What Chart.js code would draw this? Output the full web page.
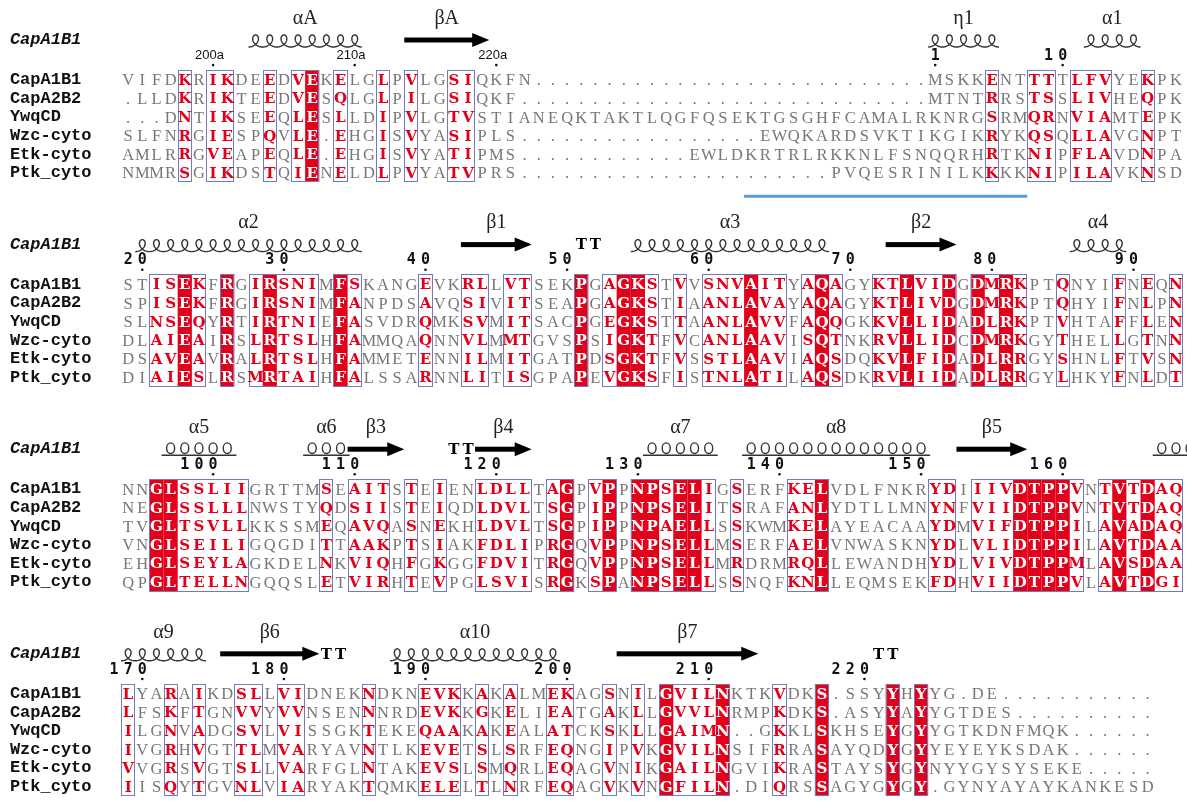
<!DOCTYPE html>
<html>
<head>
<meta charset="utf-8">
<title>CapA1B1 alignment</title>
<script src="https://cdn.jsdelivr.net/npm/chart.js@4/dist/chart.umd.min.js"></script>
<style>
  html, body { margin: 0; padding: 0; background: #fff; }
  #wrap { width: 1187px; height: 803px; }
</style>
</head>
<body>
<div id="wrap"><canvas id="aln" width="1187" height="803"></canvas></div>
<script>
// ==================== DATA ====================
const seqNames = ['CapA1B1', 'CapA2B2', 'YwqCD', 'Wzc-cyto', 'Etk-cyto', 'Ptk_cyto'];
const refName = 'CapA1B1';

// ---- block 1 (75 columns) ----
const block1Seqs = [
    'VIFDKRIKDEEDVEKELGLPVLGSIQKFN' + '..........' + '..........' + '........' + 'MSKKENTTTTLFVYEKPK',
    '.LLDKRIKTEEDVESQLGLPILGSIQKF' + '..........' + '..........' + '.........' + 'MTNTRRSTSSLIVHEQPK',
    '...DNTIKSEEQLESLLDIPVLGTVSTIANEQK' + 'TAKTLQGFQSEKTGSGHFCAMALRKNRG' + 'SRMQRNVIAMTEPK',
    'SLFNRGIESPQVLE.EHGISVYASIPLS' + '..........' + '.......' + 'EWQKARDSVKTIKGIK' + 'RYKQSQLLAVGNPT',
    'AMLRRGVEAPEQLE.EHGISVYATIPMS' + '..........' + '..' + 'EWLDKRTRLRKKNLFSNQQRH' + 'RTKNIPFLAVDNPA',
    'NMMRSGIKDSTQIENELDLPVYATVPRS' + '..........' + '..........' + '..' + 'PVQESRINILK' + 'KKKNIPILAVKNSD'
];
const block1Boxes = [[5, 5], [7, 8], [11, 11], [13, 14], [16, 16], [19, 19], [21, 21], [24, 25],
                     [62, 62], [65, 66], [68, 70], [73, 73]];
const block1Strict = [14];
const block1Ruler = [[7, '200a'], [17, '210a'], [27, '220a'], [58, '1'], [67, '10']];
const block1Helices = [[10, 17, 'αA'], [58, 62, 'η1'], [69, 72, 'α1']];
const block1Strands = [[21, 26, 'βA']];
const block1Turns = [];
const block1Underline = [45, 64];

// ---- block 2 (75 columns) ----
const block2Seqs = [
    'STISEKFRGIRSNIMFSKANGEVKRLLVTSEKP' + 'GAGKSTVVSNVAITYAQAGYKTLVIDGDMRKPTQNYIFNEQN',
    'SPISEKFRGIRSNIMFANPDSAVQSIVITSEAP' + 'GAGKSTIAANLAVAYAQAGYKTLIVDGDMRKPTQHYIFNLPN',
    'SLNSEQYRTIRTNIEFASVDRQMKSVMITSACP' + 'GEGKSTTAANLAVVFAQQGKKVLLIDADLRKPTVHTAFFLEN',
    'DLAIEAIRSLRTSLHFAMMQAQNNVLMMTGVSP' + 'SIGKTFVCANLAAVISQTNKRVLLIDCDMRKGYTHELLGTNN',
    'DSAVEAVRALRTSLHFAMMETENNILMITGATP' + 'DSGKTFVSSTLAAVIAQSDQKVLFIDADLRRGYSHNLFTVSN',
    'DIAIESLRSMRTAIHFALSSARNNLITISGPAP' + 'EVGKSFISTNLATILAQSDKRVLIIDADLRRGYLHKYFNLDT'
];
const block2Boxes = [[3, 6], [8, 8], [10, 14], [16, 17], [22, 22], [25, 26], [28, 29], [33, 33],
                     [35, 38], [40, 40], [42, 47], [49, 51], [54, 59], [61, 64], [67, 67],
                     [71, 71], [73, 73], [75, 75]];
const block2Strict = [5, 8, 11, 16, 33, 36, 37, 45, 50, 56, 59, 61, 63];
const block2Ruler = [[2, '20'], [12, '30'], [22, '40'], [32, '50'], [42, '60'], [52, '70'], [62, '80'], [72, '90']];
const block2Helices = [[2, 17, 'α2'], [37, 50, 'α3'], [68, 71, 'α4']];
const block2Strands = [[25, 29, 'β1'], [55, 59, 'β2']];
const block2Turns = [[33, 34]];

// ---- block 3 (75 columns) ----
const block3Seqs = [
    'NNGLSSLIIGRTTMSEAITSTEIENLDLLTAGP' + 'VPPNPSELIGSERFKELVDLFNKRYDIIIVDTPPVNTVTDAQ',
    'NEGLSSLLLNWSTYQDSIISTEIQDLDVLTSGP' + 'IPPNPSELITSRAFANLYDTLLMNYNFVIIDTPPVNTVTDAQ',
    'TVGLTSVLLKKSSMEQAVQASNEKHLDVLTSGP' + 'IPPNPAELLSSKWMKELAYEACAAYDMVIFDTPPILAVADAQ',
    'VNGLSEILIGQGDITTAAKPTSIAKFDLIPRGQ' + 'VPPNPSELLMSERFAELVNWASKNYDLVLIDTPPILAVTDAA',
    'EHGLSEYLAGKDELNKVIQHFGKGGFDVITRGQ' + 'VPPNPSELLMRDRMRQLLEWANDHYDLVIVDTPPMLAVSDAA',
    'QPGLTELLNGQQSLETVIRHTEVPGLSVISRGK' + 'SPANPSELLSSNQFKNLLEQMSEKFDHVIIDTPPVLAVTDGI'
];
const block3Boxes = [[3, 9], [15, 15], [17, 19], [21, 21], [23, 23], [26, 29], [31, 32], [34, 35],
                     [37, 42], [44, 44], [48, 50], [58, 59], [61, 68], [70, 75]];
const block3Strict = [3, 4, 32, 35, 37, 38, 40, 41, 50, 64, 65, 66, 67, 71, 73];
const block3Ruler = [[7, '100'], [17, '110'], [27, '120'], [37, '130'], [47, '140'], [57, '150'], [67, '160']];
const block3Helices = [[4, 8, 'α5'], [14, 16, 'α6'], [38, 42, 'α7'], [45, 57, 'α8'], [74, 76, '']];
const block3Strands = [[17, 20, 'β3'], [26, 29, 'β4'], [60, 64, 'β5']];
const block3Turns = [[24, 25]];

// ---- block 4 (73 columns) ----
const block4Seqs = [
    'LYARAIKDSLLVIDNEKNDKNEVKKAKALMEKAG' + 'SNILGVILNKTKVDKS.SSYYHYYG.DE' + '..........' + '.',
    'LFSKFTGNVVYVVNSENNNRDEVKKGKELIEATG' + 'AKLLGVVLNRMPKDKS.ASYYAYYGTDES' + '..........',
    'ILGNVADGSVLVISSGKTEKEQAAKAKEALATCK' + 'SKLLGAIMN..GKKLSKHSEYGYYGTKDNFMQK' + '......',
    'IVGRHVGTTLMVARYAVNTLKEVETSLSRFEQNG' + 'IPVKGVILNSIFRRASAYQDYGYYEYEYKSDAK' + '......',
    'VVGRSVGTSLLVARFGLNTAKEVSLSMQRLEQAG' + 'VNIKGAILNGVIKRASTAYSYGYNYYGYSYSEKE' + '.....',
    'IISQYTGVNLVIARYAKTQMKELELTLNRFEQAG' + 'VKVNGFILN.DIQRSSAGYGYGY.GYNYAYAYKANKESD'
];
const block4Boxes = [[1, 1], [4, 4], [6, 6], [9, 10], [12, 13], [18, 18], [22, 24], [26, 26],
                     [28, 28], [31, 32], [35, 35], [37, 37], [39, 43], [47, 47], [50, 50],
                     [55, 55], [57, 57]];
const block4Strict = [39, 43, 50, 55, 57];
const block4Ruler = [[2, '170'], [12, '180'], [22, '190'], [32, '200'], [42, '210'], [53, '220']];
const block4Helices = [[1, 6, 'α9'], [20, 31, 'α10']];
const block4Strands = [[8, 14, 'β6'], [36, 45, 'β7']];
const block4Turns = [[15, 16], [54, 55]];

// ==================== LAYOUT ====================
// x in column units, y in text-line units
const X_MIN = -8.05, X_MAX = 75.78;
const Y_MIN = -4.3, Y_MAX = 38.87;
const BLOCK_LINES = 11;
const NAME_X = -7.35;
const SS_LABEL_DY = -3.3, SS_DY = -2.15, RULER_DY = -1.3, RULER_DOT_DY = -0.8, UNDERLINE_DY = 6.25;

const RED = '#e2001a';
const BOX = '#6f7cba';
const GRAY = '#777777';

const blocks = [
    { seqs: block1Seqs, boxes: block1Boxes, strict: block1Strict, ruler: block1Ruler,
      helices: block1Helices, strands: block1Strands, turns: block1Turns, underline: block1Underline },
    { seqs: block2Seqs, boxes: block2Boxes, strict: block2Strict, ruler: block2Ruler,
      helices: block2Helices, strands: block2Strands, turns: block2Turns },
    { seqs: block3Seqs, boxes: block3Boxes, strict: block3Strict, ruler: block3Ruler,
      helices: block3Helices, strands: block3Strands, turns: block3Turns, ringHelix: true },
    { seqs: block4Seqs, boxes: block4Boxes, strict: block4Strict, ruler: block4Ruler,
      helices: block4Helices, strands: block4Strands, turns: block4Turns }
];

blocks.forEach((b, i) => b.seqs.forEach((s, r) => {
    if (s.length !== b.seqs[0].length) console.warn('block', i + 1, 'row', r, 'length', s.length);
}));

// ==================== DRAW HELPERS ====================
// ESPript-style coil: one loop per residue
function drawCoil(ctx, x0, x1, yc, n) {
    const period = (x1 - x0) / n;
    const a = period / (2 * Math.PI), b = 6;
    ctx.beginPath();
    const steps = n * 48;
    for (let k = 0; k <= steps; k++) {
        const t = Math.PI + (k / 48) * 2 * Math.PI;
        const x = x0 + a * (t - Math.PI) - b * Math.sin(t);
        const y = yc + 1 - b * Math.cos(t);
        if (k === 0) ctx.moveTo(x, y); else ctx.lineTo(x, y);
    }
    ctx.stroke();
}

// ring-style helix used in the third block
function drawRings(ctx, x0, x1, yc, n) {
    const period = (x1 - x0) / n;
    for (let i = 0; i < n; i++) {
        ctx.beginPath();
        ctx.ellipse(x0 + (i + 0.5) * period, yc - 1, 4, 5.3, 0, 0, 2 * Math.PI);
        ctx.stroke();
    }
    ctx.beginPath();
    ctx.moveTo(x0 - 2, yc + 6);
    ctx.lineTo(x1 + 2, yc + 6);
    ctx.stroke();
}

function drawArrow(ctx, x0, x1, yc) {
    const head = 17;
    ctx.fillStyle = '#000';
    ctx.fillRect(x0, yc - 2.5, x1 - x0 - head + 1, 5);
    ctx.beginPath();
    ctx.moveTo(x1 - head, yc - 7);
    ctx.lineTo(x1, yc);
    ctx.lineTo(x1 - head, yc + 7);
    ctx.closePath();
    ctx.fill();
}

// ==================== PLUGIN ====================
const alignmentPlugin = {
    id: 'alignment',
    afterDraw(chart) {
        const ctx = chart.ctx;
        const px = v => chart.scales.x.getPixelForValue(v);
        const py = v => chart.scales.y.getPixelForValue(v);

        ctx.save();
        blocks.forEach((blk, bi) => {
            const base = bi * BLOCK_LINES;
            const top = Math.round(py(base - 0.55));
            const bottom = Math.round(py(base + 5.5));
            const strictSet = new Set(blk.strict);
            const boxSet = new Set();
            blk.boxes.forEach(([c1, c2]) => { for (let c = c1; c <= c2; c++) boxSet.add(c); });

            // red columns (strict identity)
            ctx.fillStyle = RED;
            blk.strict.forEach(c => {
                const x0 = px(c - 0.5);
                ctx.fillRect(x0, top, px(c + 0.5) - x0, bottom - top);
            });

            // similarity boxes
            ctx.strokeStyle = BOX;
            ctx.lineWidth = 1;
            blk.boxes.forEach(([c1, c2]) => {
                const x0 = Math.round(px(c1 - 0.5)) + 0.5;
                const x1 = Math.round(px(Math.min(c2 + 0.5, X_MAX))) - 0.5;
                ctx.strokeRect(x0, top + 0.5, x1 - x0, bottom - top - 1);
            });

            // sequence names and residues
            ctx.textBaseline = 'middle';
            blk.seqs.forEach((s, r) => {
                const y = py(base + r);
                ctx.textAlign = 'left';
                ctx.fillStyle = '#111';
                ctx.font = 'bold 17px "Liberation Mono"';
                ctx.fillText(seqNames[r], px(NAME_X), y);

                ctx.textAlign = 'center';
                for (let i = 0; i < s.length; i++) {
                    const c = i + 1, ch = s[i];
                    if (strictSet.has(c)) {
                        ctx.fillStyle = '#fff';
                        ctx.font = 'bold 15px "DejaVu Serif"';
                    } else if (boxSet.has(c) && ch !== '.') {
                        ctx.fillStyle = RED;
                        ctx.font = 'bold 15px "DejaVu Serif"';
                    } else {
                        ctx.fillStyle = GRAY;
                        ctx.font = '16.5px "Liberation Serif"';
                    }
                    ctx.fillText(ch, px(c), y + 1);
                }
            });

            // reference title
            const ySS = py(base + SS_DY);
            ctx.textAlign = 'left';
            ctx.fillStyle = '#111';
            ctx.font = 'italic bold 17px "Liberation Mono"';
            ctx.fillText(refName, px(NAME_X), ySS);

            // numbering ruler
            const yNum = py(base + RULER_DY);
            const yDot = py(base + RULER_DOT_DY);
            blk.ruler.forEach(([c, label]) => {
                ctx.fillStyle = '#111';
                if (label.endsWith('a')) {
                    ctx.font = '13px "Liberation Sans"';
                    ctx.textAlign = 'left';
                    const num = label.slice(0, -1);
                    const wLast = ctx.measureText(num.slice(-1)).width;
                    const wHead = ctx.measureText(num.slice(0, -1)).width;
                    ctx.fillText(label, px(c) - wHead - wLast / 2, yNum);
                } else {
                    ctx.font = 'bold 15px "DejaVu Sans Mono"';
                    ctx.textAlign = 'center';
                    for (let k = 0; k < label.length; k++) {
                        ctx.fillText(label[k], px(c - label.length + 1 + k), yNum);
                    }
                }
                ctx.beginPath();
                ctx.arc(px(c), yDot, 1.3, 0, 2 * Math.PI);
                ctx.fill();
            });

            // secondary structure
            ctx.strokeStyle = '#333';
            ctx.lineWidth = 1.4;
            const yLab = py(base + SS_LABEL_DY);
            blk.helices.forEach(([c1, c2, label]) => {
                const x0 = px(c1 - 0.5), x1 = px(c2 + 0.5);
                if (blk.ringHelix) drawRings(ctx, x0, x1, ySS, c2 - c1 + 1);
                else drawCoil(ctx, x0, x1, ySS, c2 - c1 + 1);
                if (label) {
                    ctx.fillStyle = '#222';
                    ctx.font = '20px "Liberation Serif"';
                    ctx.textAlign = 'center';
                    ctx.fillText(label, (x0 + x1) / 2, yLab);
                }
            });
            blk.strands.forEach(([c1, c2, label]) => {
                const x0 = px(c1 - 0.5), x1 = px(c2 + 0.5);
                drawArrow(ctx, x0, x1, ySS);
                ctx.fillStyle = '#222';
                ctx.font = '20px "Liberation Serif"';
                ctx.textAlign = 'center';
                ctx.fillText(label, (x0 + x1) / 2, yLab);
            });
            blk.turns.forEach(([c1, c2]) => {
                ctx.fillStyle = '#000';
                ctx.font = 'bold 15px "DejaVu Serif"';
                ctx.textAlign = 'center';
                for (let c = c1; c <= c2; c++) ctx.fillText('T', px(c), ySS + 1);
            });

            // highlighted region under block 1
            if (blk.underline) {
                const yU = py(base + UNDERLINE_DY);
                ctx.strokeStyle = '#5b9bd5';
                ctx.lineWidth = 3;
                ctx.beginPath();
                ctx.moveTo(px(blk.underline[0] - 0.5), yU);
                ctx.lineTo(px(blk.underline[1] + 0.5), yU);
                ctx.stroke();
            }
        });
        ctx.restore();
    }
};

// ==================== CHART ====================
new Chart(document.getElementById('aln'), {
    type: 'scatter',
    data: { datasets: [{ data: [], pointRadius: 0 }] },
    options: {
        responsive: false,
        animation: false,
        events: [],
        layout: { padding: 0 },
        plugins: { legend: { display: false }, tooltip: { enabled: false } },
        scales: {
            x: { type: 'linear', min: X_MIN, max: X_MAX, display: false },
            y: { type: 'linear', min: Y_MIN, max: Y_MAX, reverse: true, display: false }
        }
    },
    plugins: [alignmentPlugin]
});
</script>
</body>
</html>
